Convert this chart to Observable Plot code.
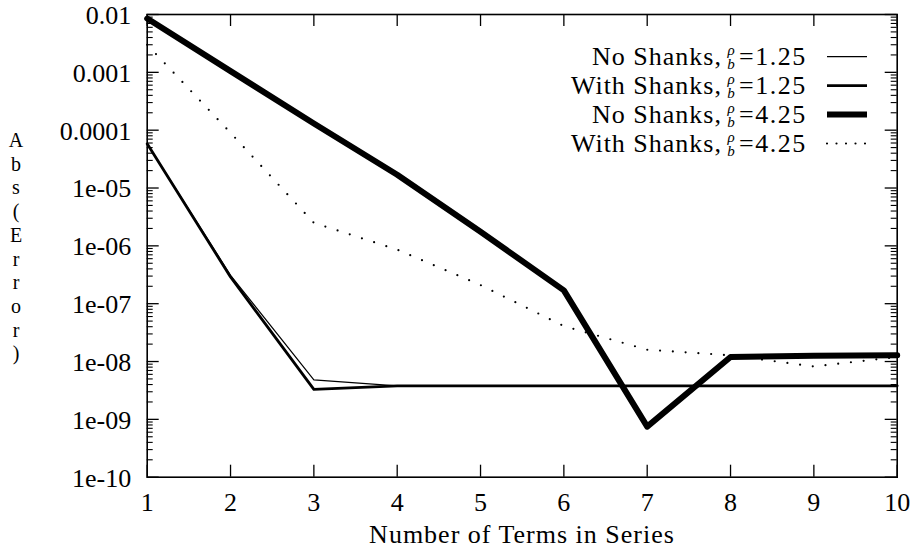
<!DOCTYPE html>
<html><head><meta charset="utf-8">
<script src="https://cdn.jsdelivr.net/npm/d3@7"></script>
<script src="https://cdn.jsdelivr.net/npm/@observablehq/plot@0.6"></script>
<style>
html,body{margin:0;padding:0;background:#fff;}
#chart{width:911px;height:552px;position:relative;}
</style></head><body><div id="chart"></div>
<script>
// ---- data ----
const terms = [1, 2, 3, 4, 5, 6, 7, 8, 9, 10];
const noShanks125   = [5.8e-5, 3.1e-7, 4.8e-9, 3.8e-9, 3.8e-9, 3.8e-9, 3.8e-9, 3.8e-9, 3.8e-9, 3.8e-9];
const withShanks125 = [5.8e-5, 2.9e-7, 3.3e-9, 3.8e-9, 3.8e-9, 3.8e-9, 3.8e-9, 3.8e-9, 3.8e-9, 3.8e-9];
const noShanks425   = [8.5e-3, 1.05e-3, 1.3e-4, 1.7e-5, 1.75e-6, 1.7e-7, 7.5e-10, 1.2e-8, 1.26e-8, 1.28e-8];
const withShanks425 = [3.0e-3, 9.0e-5, 2.5e-6, 8.6e-7, 2.1e-7, 4.1e-8, 1.6e-8, 1.28e-8, 8.2e-9, 1.2e-8];

const seriesNames = ["No Shanks,", "With Shanks,", "No Shanks,", "With Shanks,"];
const ratioLabels = ["=1.25", "=1.25", "=4.25", "=4.25"];
const yTickValues = [1e-2, 1e-3, 1e-4, 1e-5, 1e-6, 1e-7, 1e-8, 1e-9, 1e-10];
const yTickLabels = ["0.01", "0.001", "0.0001", "1e-05", "1e-06", "1e-07", "1e-08", "1e-09", "1e-10"];
const xTickLabels = ["1", "2", "3", "4", "5", "6", "7", "8", "9", "10"];
const xAxisTitle = "Number of Terms in Series";
const yAxisTitle = "Abs(Error)";

// ---- styles ----
const seriesValues = [noShanks125, withShanks125, noShanks425, withShanks425];
const seriesStyle = [
  {strokeWidth: 1.2},
  {strokeWidth: 2.8},
  {strokeWidth: 6},
  {strokeWidth: 2.2, strokeDasharray: "0,12.8", strokeLinecap: "round"}
];
const rows = seriesValues.flatMap((vals, s) => terms.map((t, i) => ({s, x: t, y: vals[i]})));

const W = 911, H = 552;
const mL = 146.7, mR = 14.3, mT = 14, mB = 75.3;
const pw = W - mL - mR, ph = H - mT - mB;
const FONT = "Liberation Serif, DejaVu Serif, Times New Roman, serif";

const minorTicks = [];
for (let e = -10; e < -2; e++) for (let k = 2; k <= 9; k++) minorTicks.push(k * Math.pow(10, e));

const drawOrder = [2, 3, 1, 0];
const chart = Plot.plot({
  width: W, height: H,
  marginLeft: mL, marginRight: mR, marginTop: mT, marginBottom: mB,
  style: {fontFamily: FONT, fontSize: "26px", color: "black", background: "white"},
  x: {domain: [1, 10]},
  y: {type: "log", domain: [1e-10, 1e-2]},
  marks: [
    Plot.tickY(yTickValues, {insetRight: pw - 12, stroke: "black", strokeWidth: 1.3}),
    Plot.tickY(yTickValues, {insetLeft: pw - 12, stroke: "black", strokeWidth: 1.3}),
    Plot.tickY(minorTicks, {insetRight: pw - 6, stroke: "black", strokeWidth: 1.1}),
    Plot.tickY(minorTicks, {insetLeft: pw - 6, stroke: "black", strokeWidth: 1.1}),
    Plot.tickX(terms, {insetTop: ph - 12, stroke: "black", strokeWidth: 1.3}),
    Plot.tickX(terms, {insetBottom: ph - 12, stroke: "black", strokeWidth: 1.3}),
    ...drawOrder.map(s => Plot.line(rows.filter(d => d.s === s), {
      x: "x", y: "y", stroke: "black", ...seriesStyle[s]
    })),
    Plot.frame({stroke: "black", strokeWidth: 1.6}),
    Plot.axisY(yTickValues, {
      tickSize: 0, tickPadding: 16, label: null, dy: 1, fontFamily: FONT, fontSize: 26,
      tickFormat: d => yTickLabels[yTickValues.indexOf(d)]
    }),
    Plot.axisX(terms, {
      tickSize: 0, tickPadding: 15, label: null, fontFamily: FONT, fontSize: 26,
      tickFormat: d => xTickLabels[terms.indexOf(d)]
    })
  ]
});
chart.style.fontFamily = FONT;
document.getElementById("chart").appendChild(chart);

// ---- titles and legend ----
const svg = d3.select(chart);
svg.append("text")
  .attr("x", 522).attr("y", 543)
  .attr("text-anchor", "middle")
  .style("font-family", FONT).attr("font-size", 26).attr("letter-spacing", "1px")
  .attr("fill", "black")
  .text(xAxisTitle);

// vertical, one letter per line (as in the reference)
const yl = svg.append("text")
  .attr("text-anchor", "middle").attr("dominant-baseline", "central")
  .style("font-family", FONT).attr("font-size", 20).attr("fill", "black");
Array.from(yAxisTitle).forEach((ch, i) => {
  yl.append("tspan").attr("x", 16).attr("y", 140 + i * 23.7).text(ch);
});

const rowY = [56.7, 85.7, 114.5, 143.5];
const lg = svg.append("g").style("font-family", FONT).attr("fill", "black");
seriesNames.forEach((name, i) => {
  const y = rowY[i];
  lg.append("text").attr("x", 722).attr("y", y + 8.5)
    .attr("text-anchor", "end").attr("font-size", 26).attr("letter-spacing", "1px")
    .text(name);
  const frac = lg.append("text")
    .attr("text-anchor", "middle").attr("font-size", 15).attr("font-style", "italic");
  frac.append("tspan").attr("x", 731).attr("y", y - 2).text("ρ");
  frac.append("tspan").attr("x", 731).attr("y", y + 12).text("b");
  lg.append("text").attr("x", 739).attr("y", y + 8.5)
    .attr("text-anchor", "start").attr("font-size", 26).attr("letter-spacing", "1.5px")
    .text(ratioLabels[i]);
  const st = seriesStyle[i];
  lg.append("line")
    .attr("x1", 827).attr("x2", 867).attr("y1", y).attr("y2", y)
    .attr("stroke", "black")
    .attr("stroke-width", st.strokeWidth)
    .attr("stroke-dasharray", st.strokeDasharray ? "0,9.5" : null)
    .attr("stroke-linecap", st.strokeLinecap || null);
});
</script>
</body></html>
